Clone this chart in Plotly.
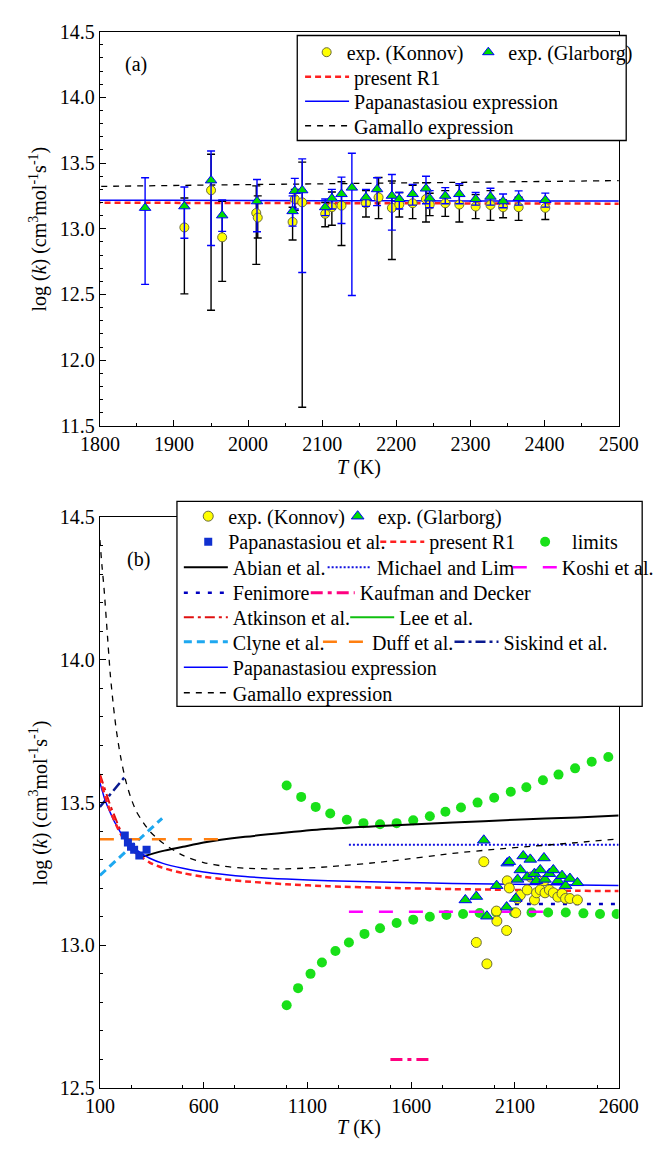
import plotly.graph_objects as go

W, H = 665, 1153
FONT = "Liberation Serif"

# ---------------- experimental data (both panels) ----------------
konnov_T = [1914, 1950, 1965, 2011, 2013, 2060, 2063, 2073, 2104, 2113, 2126, 2159, 2176,
            2194, 2204, 2222, 2240, 2245, 2266, 2285, 2307, 2327, 2344, 2365, 2401]
konnov_logk = [13.01, 13.293, 12.935, 13.12, 13.085, 13.052, 13.226, 13.201, 13.114, 13.164,
               13.176, 13.194, 13.239, 13.159, 13.184, 13.194, 13.226, 13.184, 13.194, 13.184,
               13.169, 13.181, 13.164, 13.164, 13.159]
konnov_hi = [13.234, 13.567, 13.209, 13.326, 13.25, 13.164, 13.30, 13.507, 13.20, 13.28,
             13.358, 13.29, 13.39, 13.363, 13.276, 13.33, 13.35, 13.27, 13.29, 13.33,
             13.26, 13.29, 13.22, 13.24, 13.22]
konnov_lo = [12.505, 12.38, 12.60, 12.729, 12.93, 12.915, 13.14, 11.642, 13.015, 13.027,
             12.873, 13.09, 13.077, 12.766, 13.09, 13.077, 13.052, 13.10, 13.094, 13.052,
             13.077, 13.064, 13.084, 13.064, 13.07]

glarborg_T = [1861, 1914, 1950, 1965, 2012, 2060, 2063, 2073, 2104, 2113, 2126, 2140, 2159,
              2174, 2194, 2204, 2222, 2240, 2245, 2266, 2285, 2307, 2327, 2344, 2365, 2401]
glarborg_logk = [13.159, 13.171, 13.368, 13.102, 13.209, 13.134, 13.288, 13.293, 13.164, 13.231,
                 13.264, 13.313, 13.239, 13.301, 13.251, 13.226, 13.264, 13.306, 13.231, 13.251,
                 13.264, 13.226, 13.244, 13.209, 13.234, 13.219]
glarborg_hi = [13.388, 13.318, 13.592, 13.219, 13.375, 13.25, 13.383, 13.532, 13.226, 13.30,
               13.393, 13.574, 13.30, 13.388, 13.413, 13.276, 13.338, 13.40, 13.29, 13.313,
               13.343, 13.276, 13.308, 13.264, 13.288, 13.271]
glarborg_lo = [12.577, 12.928, 12.873, 12.98, 12.977, 13.02, 13.15, 12.667, 13.10, 13.15,
               13.04, 12.492, 13.17, 13.176, 12.99, 13.15, 13.18, 13.19, 13.16, 13.19,
               13.19, 13.18, 13.18, 13.16, 13.18, 13.165]

papan_data_T = [220, 235, 250, 265, 290, 325]
papan_data_logk = [13.385, 13.36, 13.345, 13.335, 13.315, 13.335]

# ---------------- rate expressions ----------------
expr_T = [100, 110, 120, 135, 150, 165, 180, 200, 225, 250, 275, 300, 340, 400, 500, 600,
          700, 800, 1000, 1200, 1500, 1800, 2000, 2200, 2400, 2600]
gamallo = [14.42, 14.33, 14.25, 14.10, 13.95, 13.84, 13.75, 13.66, 13.575, 13.515, 13.47, 13.44,
           13.40, 13.36, 13.315, 13.29, 13.277, 13.27, 13.268, 13.275, 13.295, 13.322, 13.336,
           13.348, 13.36, 13.373]
papan_expr = [13.57, 13.545, 13.52, 13.49, 13.465, 13.44, 13.42, 13.395, 13.37, 13.35, 13.335,
              13.322, 13.305, 13.288, 13.27, 13.257, 13.248, 13.241, 13.232, 13.226, 13.221,
              13.217, 13.215, 13.213, 13.211, 13.21]
present_r1 = [13.59, 13.56, 13.535, 13.50, 13.47, 13.445, 13.42, 13.39, 13.36, 13.34, 13.322,
              13.31, 13.29, 13.272, 13.253, 13.24, 13.231, 13.224, 13.214, 13.207, 13.201,
              13.197, 13.195, 13.193, 13.191, 13.19]

abian_T = [300, 400, 500, 600, 800, 1000, 1200, 1500, 1800, 2100, 2400, 2600]
abian = [13.31, 13.33, 13.345, 13.36, 13.38, 13.395, 13.408, 13.42, 13.43, 13.44, 13.448, 13.455]
michael_T = [1300, 2600]
michael = [13.352, 13.352]
koshi_T = [1300, 2250]
koshi = [13.118, 13.118]
fenimore_T = [2100, 2600]
fenimore = [13.145, 13.145]
kaufman_T = [1500, 1700]
kaufman = [12.60, 12.60]
atkinson_T = [100, 150, 200]
atkinson = [13.60, 13.49, 13.40]
lee_T = [298]
lee = [13.33]
clyne_T = [100, 400]
clyne = [13.245, 13.445]
duff_T = [100, 700]
duff = [13.372, 13.372]
siskind_T = [100, 220]
siskind = [13.485, 13.59]

lim_up_T = [1000, 1070, 1140, 1210, 1290, 1370, 1450, 1530, 1610, 1690, 1765, 1840, 1920,
            2000, 2080, 2155, 2235, 2310, 2390, 2470, 2550]
lim_up = [13.56, 13.52, 13.485, 13.462, 13.44, 13.428, 13.424, 13.428, 13.438, 13.452, 13.468,
          13.483, 13.50, 13.517, 13.538, 13.554, 13.578, 13.598, 13.62, 13.643, 13.66]
lim_lo_T = [1000, 1055, 1115, 1170, 1235, 1300, 1375, 1450, 1530, 1610, 1690, 1770, 1850,
            1930, 2010, 2095, 2180, 2260, 2345, 2430, 2510, 2590]
lim_lo = [12.79, 12.85, 12.90, 12.94, 12.98, 13.01, 13.04, 13.06, 13.078, 13.09, 13.10, 13.106,
          13.11, 13.113, 13.115, 13.115, 13.115, 13.115, 13.115, 13.112, 13.11, 13.11]

# ---------------- figure ----------------
fig = go.Figure()
legends = {}


def add(trace, text_x=None, row_y=None, iw=30):
    if text_x is None:
        trace.update(showlegend=False)
    else:
        n = len(legends) + 1
        name = "legend" if n == 1 else f"legend{n}"
        trace.update(legend=name, showlegend=True)
        legends[name] = dict(x=(text_x - iw - 10) / W, y=1 - row_y / H, xanchor="left",
                             yanchor="middle", bgcolor="rgba(0,0,0,0)", borderwidth=0,
                             itemwidth=iw,
                             font=dict(family=FONT, size=20, color="black"),
                             itemclick=False, itemdoubleclick=False)
    fig.add_trace(trace)


def line(x, y, name, color, width, dash, ax, shape="linear"):
    return go.Scatter(x=x, y=y, name=name, mode="lines", xaxis="x" + ax, yaxis="y" + ax,
                      line=dict(color=color, width=width, dash=dash, shape=shape, smoothing=0.7))


LW = 44  # legend line-sample length
konnov_marker = dict(symbol="circle", color="#FFFF00", size=9, line=dict(color="#6B6B3A", width=1))
glar_marker = dict(symbol="triangle-up", color="#00DD00", size=10, line=dict(color="#0000FF", width=1))

# ----- panel (a) -----
add(line(expr_T, present_r1, "present R1", "#FF2020", 2.5, "6px,4px", ""), 352, 67, LW)
add(line(expr_T, papan_expr, "Papanastasiou expression", "#0000FF", 1.5, "solid", "", "spline"), 352, 92, LW)
add(line(expr_T, gamallo, "Gamallo expression", "black", 1.3, "6px,6px", "", "spline"), 352, 117, LW)
add(go.Scatter(x=konnov_T, y=konnov_logk, mode="markers", name="exp. (Konnov)", xaxis="x", yaxis="y",
               marker=konnov_marker,
               error_y=dict(type="data", symmetric=False,
                            array=[h - v for h, v in zip(konnov_hi, konnov_logk)],
                            arrayminus=[v - l for l, v in zip(konnov_lo, konnov_logk)],
                            color="black", thickness=1.4, width=4)), 345, 42)
add(go.Scatter(x=glarborg_T, y=glarborg_logk, mode="markers", name="exp. (Glarborg)", xaxis="x", yaxis="y",
               marker=glar_marker,
               error_y=dict(type="data", symmetric=False,
                            array=[h - v for h, v in zip(glarborg_hi, glarborg_logk)],
                            arrayminus=[v - l for l, v in zip(glarborg_lo, glarborg_logk)],
                            color="#0000FF", thickness=1.4, width=4)), 517, 42)

# ----- panel (b) -----
add(go.Scatter(x=lim_up_T + lim_lo_T, y=lim_up + lim_lo, mode="markers", name="limits",
               xaxis="x2", yaxis="y2", marker=dict(color="#19E019", size=10)), 584, 541, LW)
add(line(abian_T, abian, "Abian et al.", "black", 2, "solid", "2", "spline"), 223, 567, LW)
add(line(michael_T, michael, "Michael and Lim", "#1010E0", 2, "2px,2px", "2"), 376, 567, LW)
add(line(koshi_T, koshi, "Koshi et al.", "#FF00FF", 2.5, "14px,16px", "2"), 573, 567, LW)
add(line(fenimore_T, fenimore, "Fenimore", "#0000C0", 2.5, "4px,8px", "2"), 223, 593, LW)
add(line(kaufman_T, kaufman, "Kaufman and Decker", "#FF0080", 3, "12px,5px,4px,5px", "2"), 358, 593, LW)
add(line(atkinson_T, atkinson, "Atkinson et al.", "#E01010", 2, "10px,4px,3px,4px", "2"), 223, 618, LW)
add(line(lee_T, lee, "Lee et al.", "#10C010", 2, "solid", "2"), 400, 618, LW)
add(line(clyne_T, clyne, "Clyne et al.", "#1EA8F0", 3, "8px,5px", "2"), 223, 643, LW)
add(line(duff_T, duff, "Duff et al.", "#FF7F10", 2.5, "14px,12px", "2"), 371, 643, LW)
add(line(siskind_T, siskind, "Siskind et al.", "#0A1A90", 2.5, "10px,4px,3px,4px", "2"), 511, 643, LW)
add(line(expr_T, gamallo, "Gamallo expression", "black", 1.3, "6px,6px", "2", "spline"), 223, 695, LW)
add(line(expr_T, papan_expr, "Papanastasiou expression", "#0000FF", 1.5, "solid", "2", "spline"), 223, 669, LW)
add(line(expr_T, present_r1, "present R1", "#FF2020", 2.5, "6px,4px", "2", "spline"), 432, 541, LW)
add(go.Scatter(x=papan_data_T, y=papan_data_logk, mode="markers", name="Papanastasiou et al.",
               xaxis="x2", yaxis="y2", marker=dict(symbol="square", color="#1030D0", size=8)), 219, 541)
add(go.Scatter(x=konnov_T, y=konnov_logk, mode="markers", name="exp. (Konnov)", xaxis="x2", yaxis="y2",
               marker=dict(konnov_marker, size=10)), 219, 515)
add(go.Scatter(x=glarborg_T, y=glarborg_logk, mode="markers", name="exp. (Glarborg)", xaxis="x2", yaxis="y2",
               marker=dict(glar_marker, size=11)), 378, 515)

axis_common = dict(showline=True, linecolor="black", linewidth=1.3, mirror=True, ticks="inside",
                   ticklen=6, tickwidth=1.2, tickcolor="black", showgrid=False, zeroline=False,
                   tickfont=dict(family=FONT, size=20, color="black"),
                   minor=dict(ticks="inside", ticklen=3, tickwidth=1, tickcolor="black", showgrid=False))

xdom = [85 / W, 637 / W]
fig.update_layout(
    width=W, height=H, margin=dict(l=0, r=0, t=0, b=0),
    paper_bgcolor="white", plot_bgcolor="white", showlegend=True,
    font=dict(family=FONT, size=20, color="black"),
    xaxis=dict(axis_common, domain=xdom, range=[1800, 2500], tick0=1800, dtick=100, anchor="y",
               minor=dict(axis_common["minor"], dtick=50)),
    yaxis=dict(axis_common, domain=[1 - 423 / H, 1 - 21 / H], range=[11.5, 14.5], dtick=0.5,
               tickformat=".1f", anchor="x", minor=dict(axis_common["minor"], dtick=0.1)),
    xaxis2=dict(axis_common, domain=xdom, range=[100, 2600], tick0=100, dtick=500, anchor="y2",
                minor=dict(axis_common["minor"], dtick=250)),
    yaxis2=dict(axis_common, domain=[1 - 1098 / H, 1 - 516 / H], range=[12.5, 14.5], dtick=0.5,
                tickformat=".1f", anchor="x2", minor=dict(axis_common["minor"], dtick=0.1)),
    **legends,
)

# legend frames
for (x0, y0, x1, y1) in [(295, 25, 645, 132), (167, 500, 662, 709)]:
    fig.add_shape(type="rect", xref="paper", yref="paper", x0=x0 / W, x1=x1 / W,
                  y0=1 - y1 / H, y1=1 - y0 / H, fillcolor="white",
                  line=dict(color="black", width=1.3), layer="above")

ytitle = "log (<i>k</i>) (cm<sup>3</sup>mol<sup>-1</sup>s<sup>-1</sup>)"
texts = [
    (20, 222, ytitle, -90),
    (20, 807, ytitle, -90),
    (361, 465, "<i>T</i> (K)", 0),
    (361, 1138, "<i>T</i> (K)", 0),
    (123, 55, "(a)", 0),
    (126, 559, "(b)", 0),
]
for x, y, t, ang in texts:
    fig.add_annotation(x=x / W, y=1 - y / H, xref="paper", yref="paper", text=t, textangle=ang,
                       showarrow=False, xanchor="center", yanchor="middle",
                       font=dict(family=FONT, size=20, color="black"))

fig.write_html("out.html")
